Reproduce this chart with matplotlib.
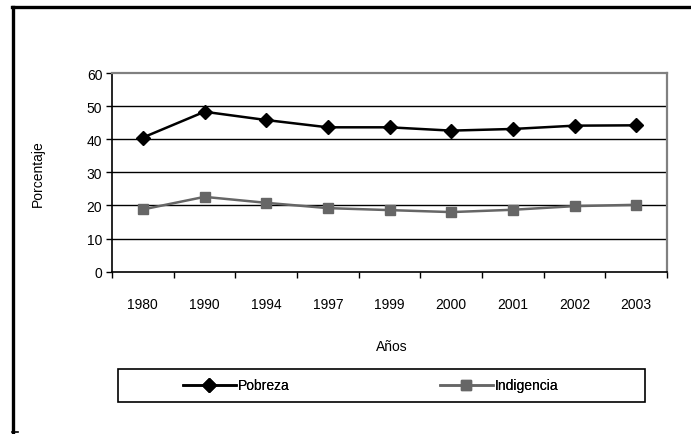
import matplotlib
matplotlib.use("Agg")
import matplotlib.pyplot as plt
from matplotlib.lines import Line2D
from matplotlib.patches import Rectangle

years = ["1980", "1990", "1994", "1997", "1999", "2000", "2001", "2002", "2003"]
pobreza = [40.5, 48.3, 45.8, 43.6, 43.6, 42.6, 43.1, 44.1, 44.2]
indigencia = [18.8, 22.6, 20.8, 19.2, 18.6, 18.0, 18.7, 19.8, 20.2]
y_ticks = [0, 10, 20, 30, 40, 50, 60]

W, H = 691, 435
plt.rcParams['font.family'] = ['Liberation Sans', 'DejaVu Sans']
fig = plt.figure(figsize=(W / 100, H / 100), dpi=100)

def fx(px):
    return px / W

def fy(py):
    return 1 - py / H

# outer frame (partially cut)
fig.add_artist(Line2D([fx(13), fx(13)], [fy(8), fy(433)], color='black', lw=2.4, transform=fig.transFigure))
fig.add_artist(Line2D([fx(12), fx(700)], [fy(8), fy(8)], color='black', lw=2.4, transform=fig.transFigure))
fig.add_artist(Line2D([fx(12), fx(18)], [fy(433), fy(433)], color='black', lw=1.2, transform=fig.transFigure))

left, right, top, bottom = 112, 667, 74, 272.7
ax = fig.add_axes([fx(left), fy(bottom), (right - left) / W, (bottom - top) / H])

x = list(range(len(years)))
l1, = ax.plot(x, pobreza, color='black', lw=1.8, marker='D', markersize=7.5, label='Pobreza', zorder=3)
l2, = ax.plot(x, indigencia, color='#666666', lw=1.8, marker='s', markersize=7, label='Indigencia', zorder=3)

ax.set_xlim(-0.5, len(years) - 0.5)
ax.set_ylim(0, 60)
ax.set_yticks(y_ticks)
ax.set_yticklabels([str(v) for v in y_ticks], fontsize=10)
ax.set_xticks(x)
ax.set_xticklabels(years, fontsize=10)
ax.tick_params(axis='x', which='major', length=0, pad=18)
ax.set_xticks([i - 0.5 for i in range(len(years) + 1)], minor=True)
ax.tick_params(axis='x', which='minor', length=4, width=1, color='black', direction='out')
ax.tick_params(axis='y', length=4, width=1, color='black', direction='out', pad=3)

for v in y_ticks[1:-1]:
    ax.axhline(v, color='black', lw=1.0, zorder=1)

for s in ['top', 'right']:
    ax.spines[s].set_color('#808080')
    ax.spines[s].set_linewidth(1.6)
for s in ['left', 'bottom']:
    ax.spines[s].set_color('black')
    ax.spines[s].set_linewidth(1.2)

ax.set_ylabel('Porcentaje', fontsize=10)
ax.yaxis.set_label_coords((45 - left) / (right - left), 0.5)
ax.set_xlabel('Años', fontsize=10)
ax.xaxis.set_label_coords((392 - left) / (right - left), -(340 - bottom) / (bottom - top))

# legend box
lx0, lx1, ly0, ly1 = 118, 645, 370, 403
fig.add_artist(Rectangle((fx(lx0), fy(ly1)), (lx1 - lx0) / W, (ly1 - ly0) / H,
                         transform=fig.transFigure, fill=False, edgecolor='black', lw=1.2))
for handle, label, xpos in [(l1, 'Pobreza', 183), (l2, 'Indigencia', 440)]:
    lg = fig.legend(handles=[handle], labels=[label], loc='center left',
                    bbox_to_anchor=(fx(xpos), fy((ly0 + ly1) / 2)), frameon=False,
                    fontsize=10, handlelength=3.8, handletextpad=0.15, borderaxespad=0,
                    borderpad=0)
    fig.add_artist(lg)

fig.savefig('out.png', dpi=100)
